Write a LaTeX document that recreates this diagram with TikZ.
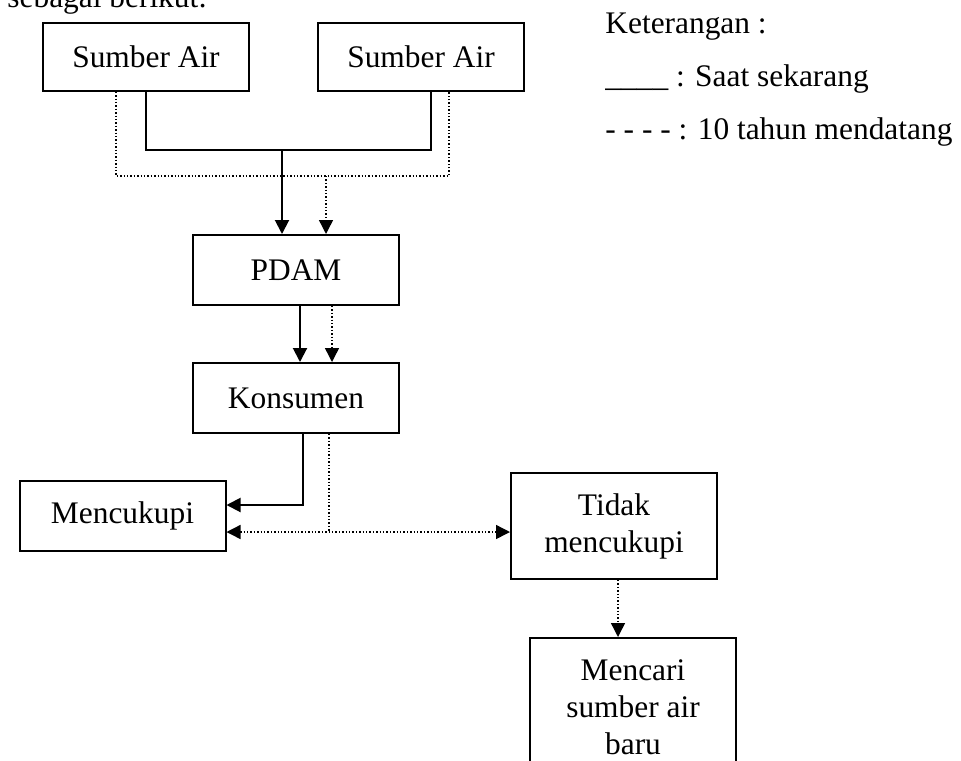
\documentclass[tikz,border=0pt]{standalone}
\usepackage{fontspec}
\setmainfont{Liberation Serif}
\usetikzlibrary{arrows.meta,positioning,calc}

\begin{document}
\begin{tikzpicture}[x=0.5pt, y=-0.5pt,
    font=\fontsize{15.7}{18.5}\selectfont,
    >={Triangle[length=7pt,width=7pt]},
    box/.style={draw, line width=1pt, minimum width=103pt, minimum height=34pt, inner sep=0pt, align=center},
    now/.style={line width=1pt},
    later/.style={line width=0.7pt, densely dotted}]
    % Page frame
    \clip (0,0) rectangle (961,760);

    % Text above the chart (cut off)
    \node[anchor=base west, inner sep=0pt] (intro) at (7,8) {sebagai berikut:};

    % Legend
    \node[anchor=base west, inner sep=0pt] (legtitle) at (605,33) {Keterangan :};
    \node[anchor=base west, inner sep=0pt] (legnow) at (605,86) {\_\_\_\_ : Saat sekarang};
    \node[anchor=base west, inner sep=0pt] (leglater) at (605,139) {- - - - : 10 tahun mendatang};

    % Boxes
    \node[box] (src1) at (146,56.7) {Sumber Air};
    \node[box] (src2) at (421,56.7) {Sumber Air};
    \node[box, minimum height=35pt] (pdam) at (296,270) {PDAM};
    \node[box, minimum height=35pt] (kons) at (296,398) {Konsumen};
    \node[box, minimum height=35pt] (cukup) at (122.5,516) {Mencukupi};
    \node[box, minimum height=53pt] (tidak) at (614,526) {Tidak\\mencukupi};
    \node[box, minimum height=69pt] (cari) at (633,707) {Mencari\\sumber air\\baru};

    % Junction points
    \coordinate (jnow) at (282,150);
    \coordinate (jlater) at (326,176);
    \coordinate (jkons) at (329,532);

    % Sources to PDAM (now)
    \draw[now] (src1.south) |- (jnow) -| ([xshift=5pt]src2.south);
    \draw[now, ->] (jnow) -- (jnow |- pdam.north);

    % Sources to PDAM (later)
    \draw[later] ([xshift=-15pt]src1.south) |- (jlater) -| ([xshift=14pt]src2.south);
    \draw[later, ->] (jlater) -- (jlater |- pdam.north);

    % PDAM to Konsumen
    \draw[now, ->] ([xshift=2pt]pdam.south) -- ([xshift=2pt]kons.north);
    \draw[later, ->] ([xshift=18pt]pdam.south) -- ([xshift=18pt]kons.north);

    % Konsumen to outcomes
    \draw[now, ->] ([xshift=3.5pt]kons.south) |- ([yshift=5.5pt]cukup.east);
    \draw[later] ([xshift=16.5pt]kons.south) -- (jkons);
    \draw[later, <->] (jkons -| cukup.east) -- (jkons -| tidak.west);

    % Tidak mencukupi to new source
    \draw[later, ->] ([xshift=2pt]tidak.south) -- ([xshift=2pt]tidak.south |- cari.north);
\end{tikzpicture}
\end{document}
